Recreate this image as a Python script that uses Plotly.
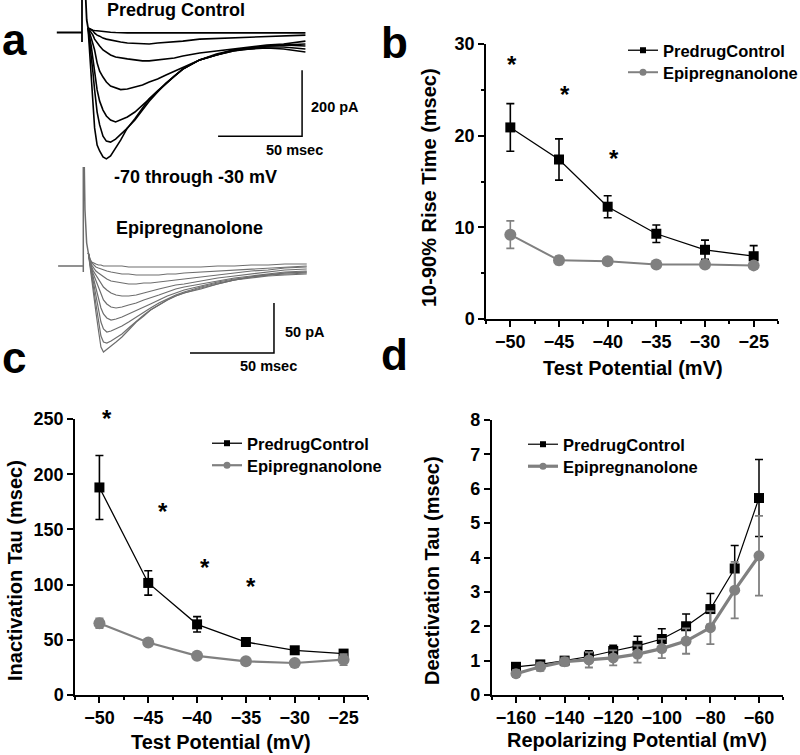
import plotly.graph_objects as go

W, H = 800, 755
FONT = "Liberation Sans, Arial, sans-serif"
GRAY = "#808080"
TRACE_GRAY = "#6e6e6e"

# ---- panel a: current traces (time in ms, current in pA) ----
CTRL_T = [3.6, 4.5, 5.5, 6.5, 7.5, 9, 10.5, 12.5, 14.5, 17, 20, 23, 27, 31.5, 36,
          40, 45, 50, 55, 60, 70, 80, 90, 100, 110, 120, 133]
CTRL_TRACES = [
    [14, 11, 8, 7, 6, 5, 4, 3, 2, 1, 0, -1, -1, -1, -1, -1, -1, -1, -1, -1, -1, -1, -1, -1, -1, -1, -1],
    [14, 11, 8, 5, -2, -8, -11, -17, -20, -23, -26, -29, -32, -33, -35, -35, -32, -30, -29, -26, -20, -18, -17, -14, -11, -11, -8],
    [14, 8, -2, -8, -20, -32, -41, -53, -59, -68, -74, -77, -80, -83, -86, -86, -83, -80, -77, -71, -62, -56, -50, -44, -38, -35, -26],
    [14, 1, -17, -35, -53, -92, -117, -135, -150, -162, -168, -173, -171, -165, -159, -150, -141, -129, -117, -105, -83, -68, -56, -47, -41, -38, -35],
    [14, -11, -41, -80, -120, -174, -208, -235, -253, -265, -271, -265, -256, -241, -220, -201, -177, -153, -132, -111, -83, -68, -53, -47, -41, -38, -41],
    [14, -23, -77, -120, -174, -241, -280, -314, -329, -332, -323, -308, -290, -261, -229, -201, -177, -153, -132, -111, -83, -68, -56, -50, -44, -44, -50],
    [14, -59, -162, -229, -289, -341, -359, -377, -383, -374, -350, -326, -289, -265, -235, -208, -180, -153, -132, -111, -83, -65, -53, -50, -47, -50, -59],
]
CTRL_ART_T = [-15, 0, 0, 0, 1.5, 2.8, 3.6]
CTRL_ART_I = [0, 0, -29, 180, 180, 38, 14]

EPI_T = [3, 4, 5, 6, 7.5, 9, 10.5, 12, 14, 16.5, 19.5, 23, 27, 31.5, 36,
         40, 45, 50, 55, 60, 70, 80, 90, 100, 110, 120, 133]
EPI_TRACES = [
    [13, 7, 4, 3, 2, 1, 1, 0, 0, 0, 0, 0, -1, -1, -1, -1, -1, -1, -1, -1, -1, 0, 0, 1, 1, 2, 2],
    [13, 6, 3, 1, -1, -2, -3, -4, -5, -6, -7, -8, -8, -9, -9, -9, -9, -8, -8, -7, -6, -5, -4, -3, -2, -1, 0],
    [13, 5, 1, -2, -5, -7, -9, -11, -13, -15, -16, -17, -18, -18, -17, -17, -16, -15, -14, -13, -11, -9, -7, -5, -4, -2, -1],
    [13, 4, -1, -5, -9, -13, -17, -21, -24, -27, -29, -30, -30, -29, -27, -25, -23, -21, -19, -18, -15, -12, -10, -8, -6, -4, -3],
    [13, 3, -3, -8, -15, -22, -29, -34, -38, -41, -42, -41, -39, -37, -34, -32, -29, -26, -23, -21, -18, -15, -12, -10, -8, -6, -5],
    [13, 2, -5, -12, -22, -33, -42, -48, -52, -54, -53, -51, -48, -45, -41, -38, -34, -30, -27, -24, -20, -16, -13, -11, -9, -7, -6],
    [13, 1, -7, -16, -30, -44, -56, -63, -66, -65, -63, -60, -56, -51, -46, -42, -37, -33, -29, -26, -21, -17, -14, -11, -9, -8, -7],
    [13, 0, -10, -21, -38, -55, -70, -76, -77, -75, -72, -68, -62, -55, -49, -44, -39, -34, -30, -27, -22, -18, -14, -12, -10, -9, -8],
    [13, -1, -14, -27, -46, -64, -81, -86, -83, -80, -76, -71, -64, -56, -50, -44, -39, -34, -30, -27, -23, -18, -14, -11, -9, -7, -6],
]
EPI_ART_T = [-15, 0, 0, 0, 0.5, 1.0, 2.0, 3.0]
EPI_ART_I = [0, 0, -6, 110, 110, 56, 23, 13]

# ---- panel b: 10-90% rise time ----
POT_B = [-50, -45, -40, -35, -30, -25]
RISE_CTRL = [20.9, 17.4, 12.25, 9.3, 7.55, 6.85]
RISE_CTRL_ERR = [2.6, 2.25, 1.2, 0.95, 1.05, 1.15]
RISE_EPI = [9.2, 6.4, 6.3, 5.95, 5.95, 5.85]
RISE_EPI_ERR = [1.5, 0.45, 0.2, 0.2, 0.2, 0.35]
STAR_B_X = [-49.8, -44.4, -39.4]
STAR_B_Y = [28.3, 25.0, 18.1]

# ---- panel c: inactivation tau ----
POT_C = [-50, -45, -40, -35, -30, -25]
INACT_CTRL = [188, 101.5, 64, 48, 40.5, 37.5]
INACT_CTRL_ERR = [29, 11, 7, 3.5, 2.5, 2.5]
INACT_EPI = [65, 47.5, 35.5, 30.5, 29, 32]
INACT_EPI_ERR = [4.5, 2, 2, 2, 2, 5]
STAR_C_X = [-49.2, -43.5, -39.15, -34.5]
STAR_C_Y = [255, 171, 120, 103]

# ---- panel d: deactivation tau ----
POT_D = [-160, -150, -140, -130, -120, -110, -100, -90, -80, -70, -60]
DEACT_CTRL = [0.82, 0.89, 1.0, 1.12, 1.28, 1.43, 1.63, 2.0, 2.5, 3.68, 5.73]
DEACT_CTRL_ERR = [0.1, 0.1, 0.1, 0.17, 0.17, 0.28, 0.3, 0.36, 0.45, 0.67, 1.12]
DEACT_EPI = [0.62, 0.82, 0.97, 1.02, 1.08, 1.19, 1.35, 1.57, 1.96, 3.05, 4.05]
DEACT_EPI_ERR = [0.1, 0.12, 0.12, 0.22, 0.22, 0.25, 0.28, 0.37, 0.48, 0.82, 1.16]

LEGEND_NAMES = ["PredrugControl", "Epipregnanolone"]


def px_x(x):
    return x / W


def px_y(y):
    return 1 - y / H


def bold(size):
    return dict(family=FONT, size=size, color="black", weight="bold")


def axis(rng, dtick, minor, dom, anchor, tick0=0):
    ax = dict(range=rng, domain=dom, anchor=anchor, dtick=dtick, tick0=tick0,
              showline=True, linecolor="black", linewidth=1.5, automargin=False,
              ticks="outside", ticklen=6, tickwidth=1.5, tickcolor="black",
              showgrid=False, zeroline=False, tickfont=bold(18), fixedrange=True)
    if minor:
        ax["minor"] = dict(dtick=minor, tick0=tick0, ticks="outside", ticklen=3,
                           tickwidth=1.5, tickcolor="black", showgrid=False)
    return ax


def hidden(rng, dom, anchor):
    return dict(range=rng, domain=dom, anchor=anchor, visible=False,
                automargin=False, fixedrange=True)


fig = go.Figure()

# panel a traces
for vals in CTRL_TRACES:
    fig.add_trace(go.Scatter(x=CTRL_T, y=vals, mode="lines", showlegend=False,
                             line=dict(color="black", width=1.6), xaxis="x", yaxis="y"))
fig.add_trace(go.Scatter(x=CTRL_ART_T, y=CTRL_ART_I, mode="lines", showlegend=False,
                         line=dict(color="black", width=1.8), xaxis="x", yaxis="y"))
for vals in EPI_TRACES:
    fig.add_trace(go.Scatter(x=EPI_T, y=vals, mode="lines", showlegend=False,
                             line=dict(color=TRACE_GRAY, width=1.2), xaxis="x2", yaxis="y2"))
fig.add_trace(go.Scatter(x=EPI_ART_T, y=EPI_ART_I, mode="lines", showlegend=False,
                         line=dict(color=TRACE_GRAY, width=1.5), xaxis="x2", yaxis="y2"))


def series(x, y, err, ax, color, symbol, size, lw, ew):
    fig.add_trace(go.Scatter(
        x=x, y=y, mode="lines+markers", showlegend=False, cliponaxis=False,
        line=dict(color=color, width=lw),
        marker=dict(symbol=symbol, size=size, color=color),
        error_y=dict(type="data", array=err, color=color, thickness=ew, width=4),
        xaxis="x" + ax, yaxis="y" + ax))


def legend_entry(name, ax, leg, color, symbol, size, lw):
    fig.add_trace(go.Scatter(
        x=[None], y=[None], mode="lines+markers", name=name, legend=leg,
        line=dict(color=color, width=lw), marker=dict(symbol=symbol, size=size, color=color),
        xaxis="x" + ax, yaxis="y" + ax))


series(POT_B, RISE_CTRL, RISE_CTRL_ERR, "3", "black", "square", 10, 1.3, 1.6)
series(POT_B, RISE_EPI, RISE_EPI_ERR, "3", GRAY, "circle", 12, 2, 1.6)
legend_entry(LEGEND_NAMES[0], "3", "legend", "black", "square", 6, 1.3)
legend_entry(LEGEND_NAMES[1], "3", "legend2", GRAY, "circle", 7, 2)

series(POT_C, INACT_CTRL, INACT_CTRL_ERR, "4", "black", "square", 10, 1.3, 1.6)
series(POT_C, INACT_EPI, INACT_EPI_ERR, "4", GRAY, "circle", 12, 2.2, 1.6)
legend_entry(LEGEND_NAMES[0], "4", "legend3", "black", "square", 6, 1.3)
legend_entry(LEGEND_NAMES[1], "4", "legend4", GRAY, "circle", 7, 2.2)

series(POT_D, DEACT_CTRL, DEACT_CTRL_ERR, "5", "black", "square", 10, 1.2, 1.5)
series(POT_D, DEACT_EPI, DEACT_EPI_ERR, "5", GRAY, "circle", 11, 3.2, 1.8)
legend_entry(LEGEND_NAMES[0], "5", "legend5", "black", "square", 6, 1.2)
legend_entry(LEGEND_NAMES[1], "5", "legend6", GRAY, "circle", 7, 3.2)

annotations = []


def text(s, x, y, size, **kw):
    ann = dict(text=s, x=px_x(x), y=px_y(y), xref="paper", yref="paper",
               showarrow=False, font=bold(size), xanchor="center", yanchor="middle")
    ann.update(kw)
    annotations.append(ann)


# panel letters
text("a", 0, 39, 44, xanchor="left")
text("b", 379, 43, 44, xanchor="left")
text("c", 0, 357, 44, xanchor="left")
text("d", 379, 355, 44, xanchor="left")

# panel a labels
text("Predrug Control", 176, 10, 18)
text("-70 through -30 mV", 195, 177, 18)
text("Epipregnanolone", 189, 228, 18)
text("200 pA", 335, 107, 14.5)
text("50 msec", 294, 150, 14.5)
text("50 pA", 305, 332, 14.5)
text("50 msec", 268, 366, 14.5)

# axis titles
text("10-90% Rise Time (msec)", 429, 188, 20, textangle=-90)
text("Test Potential (mV)", 633, 368, 20)
text("Inactivation Tau (msec)", 15, 571, 20, textangle=-90)
text("Test Potential (mV)", 221, 742, 20)
text("Deactivation Tau (msec)", 432, 571, 20, textangle=-90)
text("Repolarizing Potential (mV)", 637, 740, 20)


# significance stars (a star above the axis top is pinned to the top and shifted up)
def stars(xs, ys, ax, ymax, px_per_unit):
    for sx, sy in zip(xs, ys):
        over = max(sy - ymax, 0)
        annotations.append(dict(text="*", x=sx, y=sy - over, xref="x" + ax, yref="y" + ax,
                                showarrow=False, font=bold(24),
                                yshift=-5 + over * px_per_unit))


stars(STAR_B_X, STAR_B_Y, "3", 30, 275 / 30)
stars(STAR_C_X, STAR_C_Y, "4", 250, 276 / 250)

# scale bars
shapes = [
    dict(type="path", path="M 81,-314 L 131,-314 L 131,-114", xref="x", yref="y",
         line=dict(color="black", width=1.5)),
    dict(type="path", path="M 63.5,-87 L 113.5,-87 L 113.5,-37", xref="x2", yref="y2",
         line=dict(color="black", width=1.5)),
]


def leg(x, top):
    return dict(x=px_x(x), y=px_y(top), xanchor="left", yanchor="top", font=bold(16.5),
                bgcolor="rgba(0,0,0,0)", itemwidth=30)


fig.update_layout(
    width=W, height=H, margin=dict(l=0, r=0, t=0, b=0, autoexpand=False),
    paper_bgcolor="white", plot_bgcolor="white",
    xaxis=hidden([-19.05, 141.67], [px_x(50), px_x(320)], "y"),
    yaxis=hidden([-401.5, 98.5], [px_y(165), px_y(0)], "x"),
    xaxis2=hidden([-19.82, 140.89], [px_x(50), px_x(320)], "y2"),
    yaxis2=hidden([-94, 99], [px_y(360), px_y(167)], "x2"),
    xaxis3=axis([-52.5, -22.5], 5, 2.5, [px_x(486), px_x(778)], "y3", tick0=-50),
    yaxis3=axis([0, 30], 10, 5, [px_y(319), px_y(44)], "x3"),
    xaxis4=axis([-52.5, -22.5], 5, 2.5, [px_x(75), px_x(368)], "y4", tick0=-50),
    yaxis4=axis([0, 250], 50, None, [px_y(695), px_y(419)], "x4"),
    xaxis5=axis([-170, -50], 20, 10, [px_x(491.7), px_x(783.3)], "y5", tick0=-160),
    yaxis5=axis([0, 8], 1, None, [px_y(695), px_y(420)], "x5"),
    legend=leg(623, 33), legend2=leg(623, 55),
    legend3=leg(207, 426), legend4=leg(207, 448),
    legend5=leg(523, 427), legend6=leg(523, 449),
    annotations=annotations, shapes=shapes,
)

fig.write_html("out.html", config={"displayModeBar": False},
               post_script="document.body.style.margin = '0';")
